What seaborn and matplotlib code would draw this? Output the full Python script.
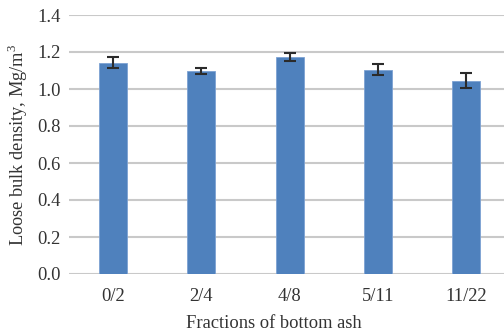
import matplotlib
matplotlib.use("Agg")
import matplotlib.pyplot as plt
import seaborn as sns
import pandas as pd

categories = ["0/2", "2/4", "4/8", "5/11", "11/22"]
density = [1.143, 1.097, 1.171, 1.105, 1.045]
err = [0.028, 0.016, 0.022, 0.030, 0.042]
yticks = [0.0, 0.2, 0.4, 0.6, 0.8, 1.0, 1.2, 1.4]

sns.set_theme(style="white")
plt.rcParams['font.family'] = ['Liberation Serif', 'DejaVu Serif']
plt.rcParams['mathtext.fontset'] = 'custom'
plt.rcParams['mathtext.rm'] = 'Liberation Serif'

df = pd.DataFrame({"fraction": categories, "density": density})

fig = plt.figure(figsize=(5.04, 3.35), dpi=100)
ax = fig.add_axes([69/504, 1 - 274/335, 1 - 69/504, (274 - 15) / 335])

sns.barplot(data=df, x="fraction", y="density", color="#4F81BD", width=0.317,
            saturation=1, errorbar=None, ax=ax, zorder=3,
            edgecolor="#7DA2D3", linewidth=0.6)
ax.errorbar(range(len(categories)), density, yerr=err, fmt="none",
            ecolor="#2b2b2b", elinewidth=1.5, capsize=4.3, capthick=1.5, zorder=4)

ax.set_ylim(0, 1.4)
ax.set_xlim(-0.5, -0.5 + 435 / 88.25)
ax.set_yticks(yticks)
ax.set_yticklabels([f"{v:.1f}" for v in yticks])
ax.yaxis.grid(True, color="#c9c9c9", linewidth=1.5, zorder=0)
ax.set_axisbelow(True)
for s in ax.spines.values():
    s.set_visible(False)
ax.tick_params(axis="both", length=0, labelsize=13.3, colors="#333333")
ax.tick_params(axis="y", pad=6)
ax.tick_params(axis="x", pad=10)
ax.set_xlabel("Fractions of bottom ash", fontsize=13.3, color="#333333", labelpad=7)
ax.xaxis.label.set_x((274 - 69) / 435)
ax.set_ylabel("Loose bulk density, Mg/m$^3$", fontsize=13.2, color="#333333", labelpad=5)

fig.savefig("out.png", dpi=100)
